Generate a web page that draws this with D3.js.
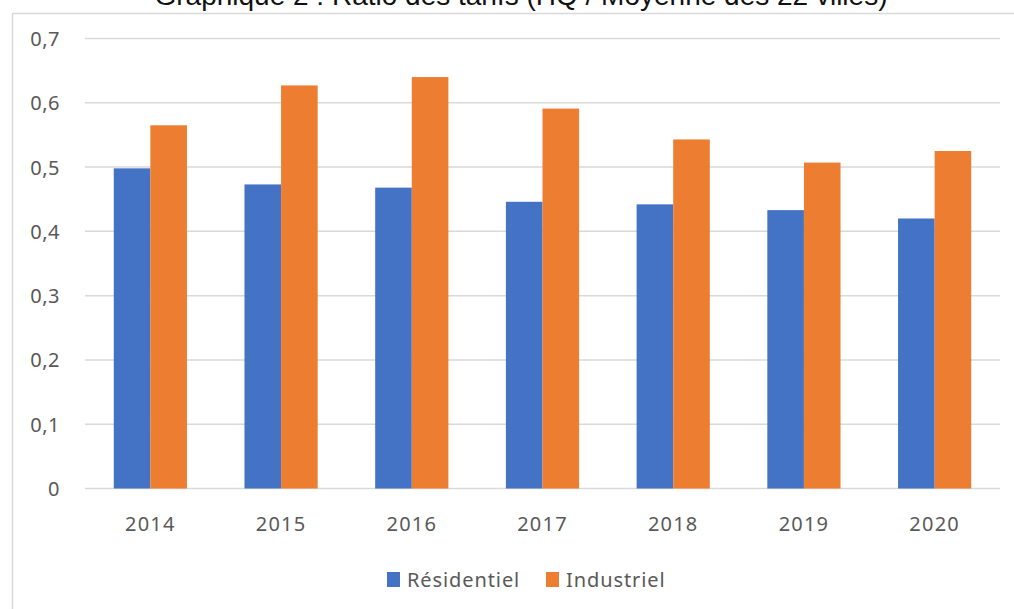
<!DOCTYPE html>
<html>
<head>
<meta charset="utf-8">
<script src="https://cdn.jsdelivr.net/npm/d3@7"></script>
<style>
  body { margin: 0; background: #fff; }
  svg { display: block; }
</style>
</head>
<body>
<div id="chart"></div>
<script>
// données du graphique
const years = ['2014', '2015', '2016', '2017', '2018', '2019', '2020'];
const residentiel = [0.498, 0.473, 0.468, 0.446, 0.442, 0.433, 0.420];
const industriel = [0.565, 0.627, 0.640, 0.591, 0.543, 0.507, 0.525];
const seriesNames = ['Résidentiel', 'Industriel'];
const yTicks = [0, 0.1, 0.2, 0.3, 0.4, 0.5, 0.6, 0.7];

const width = 1014, height = 609;
const colors = ['#4472C4', '#ED7D31'];
const labelFont = 'Noto Sans, sans-serif';

const svg = d3.select('#chart').append('svg')
    .attr('width', width)
    .attr('height', height);

// cadre du graphique (bord gauche et haut visibles)
svg.append('path')
    .attr('d', 'M12.5,609 L12.5,13.5 L1014,13.5')
    .attr('fill', 'none')
    .attr('stroke', '#d9d9d9')
    .attr('stroke-width', 1.5);

// titre (coupé en haut, comme dans l'original)
svg.append('text')
    .attr('x', 521)
    .attr('y', 5)
    .attr('text-anchor', 'middle')
    .attr('font-family', 'Liberation Sans, Arial, sans-serif')
    .attr('font-size', 28)
    .attr('fill', '#111')
    .text('Graphique 2 : Ratio des tarifs (HQ / Moyenne des 22 villes)');

const plot = { left: 85, right: 1000, top: 38.5, bottom: 488.5 };

const x = d3.scaleBand()
    .domain(years)
    .range([plot.left, plot.right]);

const y = d3.scaleLinear()
    .domain([0, 0.7])
    .range([plot.bottom, plot.top]);

const barW = 36.6;

// lignes de quadrillage
svg.append('g')
    .selectAll('line')
    .data(yTicks)
    .join('line')
    .attr('x1', plot.left)
    .attr('x2', plot.right)
    .attr('y1', d => y(d))
    .attr('y2', d => y(d))
    .attr('stroke', '#d9d9d9')
    .attr('stroke-width', 1.5);

// étiquettes de l'axe Y
svg.append('g')
    .selectAll('text')
    .data(yTicks)
    .join('text')
    .attr('x', 60)
    .attr('y', d => y(d) + 7.5)
    .attr('text-anchor', 'end')
    .attr('font-family', labelFont)
    .attr('font-size', 20)
    .attr('letter-spacing', 0.5)
    .attr('fill', '#595959')
    .text(d => d === 0 ? '0' : d3.format('.1f')(d).replace('.', ','));

// barres
const series = [residentiel, industriel];
series.forEach((vals, si) => {
    svg.append('g')
        .selectAll('rect')
        .data(vals)
        .join('rect')
        .attr('x', (d, i) => x(years[i]) + x.bandwidth() / 2 - barW + si * barW)
        .attr('y', d => y(d))
        .attr('width', barW)
        .attr('height', d => y(0) - y(d))
        .attr('fill', colors[si]);
});

// étiquettes de l'axe X
svg.append('g')
    .selectAll('text')
    .data(years)
    .join('text')
    .attr('x', d => x(d) + x.bandwidth() / 2)
    .attr('y', 530.5)
    .attr('text-anchor', 'middle')
    .attr('font-family', labelFont)
    .attr('font-size', 20)
    .attr('letter-spacing', 1.2)
    .attr('fill', '#595959')
    .text(d => d);

// légende
const legendX = [387, 546];
const legend = svg.append('g');
seriesNames.forEach((name, i) => {
    legend.append('rect')
        .attr('x', legendX[i])
        .attr('y', 572)
        .attr('width', 13)
        .attr('height', 15)
        .attr('fill', colors[i]);
    legend.append('text')
        .attr('x', legendX[i] + 20)
        .attr('y', 586.5)
        .attr('font-family', labelFont)
        .attr('font-size', 20)
        .attr('letter-spacing', 0.9)
        .attr('fill', '#595959')
        .text(name);
});
</script>
</body>
</html>
